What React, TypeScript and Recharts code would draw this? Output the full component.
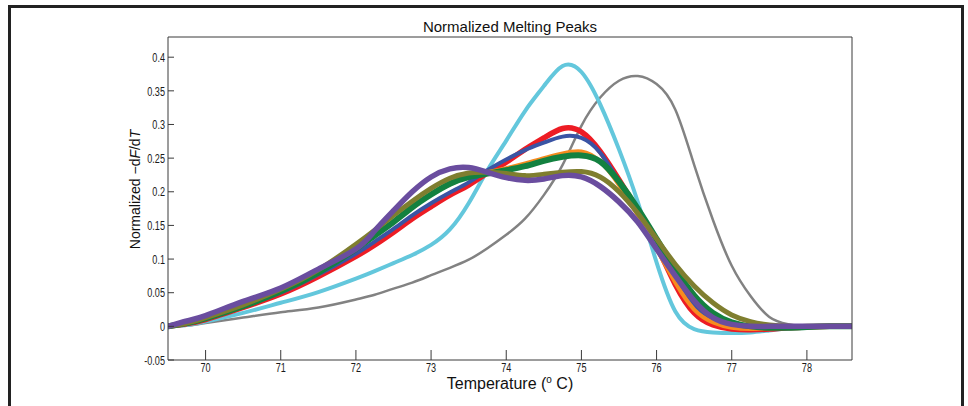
import * as React from 'react';
import { Line, LineChart, XAxis, YAxis } from 'recharts';

const temps = [
    69.5, 69.75, 70, 70.5, 71, 71.5, 72, 72.25, 72.5, 72.75, 73, 73.25, 73.5, 73.75, 74, 74.25, 74.5,
    74.75, 75, 75.25, 75.5, 75.75, 76, 76.25, 76.5, 76.75, 77, 77.25, 77.5, 77.75, 78, 78.3, 78.6,
];

const cyan = [
    0, 0.002, 0.007, 0.02, 0.035, 0.051, 0.071, 0.082, 0.094, 0.106, 0.121, 0.144, 0.183, 0.232, 0.276,
    0.32, 0.357, 0.387, 0.378, 0.33, 0.263, 0.185, 0.095, 0.022, -0.004, -0.009, -0.01, -0.009, -0.006,
    -0.003, -0.001, 0, 0,
];
const gray = [
    0, 0.001, 0.005, 0.013, 0.021, 0.028, 0.04, 0.047, 0.056, 0.065, 0.076, 0.087, 0.099, 0.116, 0.136,
    0.16, 0.195, 0.24, 0.298, 0.34, 0.365, 0.372, 0.36, 0.322, 0.24, 0.158, 0.09, 0.045, 0.014, 0.003,
    -0.001, 0, 0,
];
const red = [
    0, 0.004, 0.01, 0.028, 0.048, 0.074, 0.104, 0.121, 0.14, 0.16, 0.178, 0.195, 0.21, 0.228, 0.244,
    0.263, 0.28, 0.294, 0.289, 0.26, 0.218, 0.172, 0.12, 0.062, 0.02, 0.002, -0.004, -0.005, -0.004,
    -0.002, -0.001, 0, 0,
];
const blue = [
    0, 0.004, 0.011, 0.03, 0.05, 0.077, 0.108, 0.126, 0.145, 0.165, 0.183, 0.199, 0.214, 0.232, 0.248,
    0.262, 0.273, 0.282, 0.28, 0.258, 0.215, 0.168, 0.12, 0.07, 0.03, 0.01, 0.001, -0.002, -0.002,
    -0.001, 0, 0, 0,
];
const orange = [
    0, 0.005, 0.012, 0.031, 0.053, 0.081, 0.116, 0.135, 0.155, 0.176, 0.196, 0.211, 0.222, 0.229, 0.235,
    0.242, 0.25, 0.257, 0.26, 0.245, 0.21, 0.165, 0.115, 0.065, 0.025, 0.006, -0.002, -0.004, -0.003,
    -0.002, -0.001, 0, 0,
];
const green = [
    0, 0.005, 0.012, 0.03, 0.052, 0.08, 0.115, 0.135, 0.155, 0.177, 0.196, 0.212, 0.222, 0.227, 0.232,
    0.238, 0.246, 0.252, 0.254, 0.245, 0.215, 0.175, 0.13, 0.085, 0.046, 0.02, 0.006, 0, -0.002, -0.002,
    -0.001, 0, 0,
];
const olive = [
    0, 0.005, 0.013, 0.032, 0.055, 0.084, 0.122, 0.143, 0.165, 0.186, 0.205, 0.22, 0.228, 0.229, 0.227,
    0.224, 0.226, 0.229, 0.23, 0.222, 0.2, 0.168, 0.13, 0.092, 0.06, 0.035, 0.017, 0.007, 0.002, 0, 0,
    0, 0,
];
const purple = [
    0, 0.008, 0.016, 0.037, 0.057, 0.085, 0.115, 0.142, 0.172, 0.2, 0.222, 0.234, 0.236, 0.229, 0.221,
    0.217, 0.219, 0.224, 0.222, 0.208, 0.185, 0.155, 0.115, 0.075, 0.038, 0.013, 0.003, 0, 0, 0, 0, 0,
    0,
];

const xTicks = [70, 71, 72, 73, 74, 75, 76, 77, 78];
const yTicks = [-0.05, 0, 0.05, 0.1, 0.15, 0.2, 0.25, 0.3, 0.35, 0.4];

const series = [
    { key: 'gray', values: gray, color: '#828282', width: 2.5 },
    { key: 'cyan', values: cyan, color: '#63c7dc', width: 4 },
    { key: 'red', values: red, color: '#ed1c24', width: 5.5 },
    { key: 'blue', values: blue, color: '#3a54a4', width: 4 },
    { key: 'orange', values: orange, color: '#f68b1f', width: 4 },
    { key: 'green', values: green, color: '#138140', width: 6 },
    { key: 'olive', values: olive, color: '#7f7e2f', width: 5 },
    { key: 'purple', values: purple, color: '#6a4d9f', width: 5.5 },
];

const data = temps.map((t, i) => {
    const row: Record<string, number> = { t };
    series.forEach((s) => {
        row[s.key] = s.values[i];
    });
    return row;
});

const labelFont = "'Liberation Sans', Arial, sans-serif";
const axisColor = '#3a3a3a';

// narrow tick labels, squeezed horizontally like the original
function SqueezedTick({ x, y, payload, anchor, dy }: any) {
    return (
        <text
            x={x}
            y={y}
            dy={dy}
            textAnchor={anchor}
            transform={`translate(${x} ${y}) scale(0.7 1) translate(${-x} ${-y})`}
            fontFamily={labelFont}
            fontSize={13}
            fill="#1a1a1a"
        >
            {String(payload.value)}
        </text>
    );
}

function YLabel({ viewBox }: any) {
    const cx = viewBox.x - 27;
    const cy = viewBox.y + viewBox.height / 2 - 9;
    return (
        <text
            x={cx}
            y={cy}
            transform={`rotate(-90 ${cx} ${cy})`}
            textAnchor="middle"
            fontFamily={labelFont}
            fontSize={14}
            fill="#111"
        >
            Normalized −d<tspan fontStyle="italic">F</tspan>/d<tspan fontStyle="italic">T</tspan>
        </text>
    );
}

function XLabel({ viewBox }: any) {
    const cx = viewBox.x + viewBox.width / 2;
    return (
        <text x={cx} y={viewBox.y + 29} textAnchor="middle" fontFamily={labelFont} fontSize={16} fill="#111">
            Temperature (<tspan fontSize={10} dy={-6}>o</tspan>
            <tspan dy={6}> C)</tspan>
        </text>
    );
}

function Title({ viewBox }: any) {
    const cx = viewBox.x + viewBox.width / 2;
    return (
        <text x={cx} y={viewBox.y - 4} textAnchor="middle" fontFamily={labelFont} fontSize={15} fill="#111">
            Normalized Melting Peaks
        </text>
    );
}

export default function App() {
    return (
        <div style={{ position: 'absolute', left: 0, top: 0, width: 968, height: 406, background: '#fff' }}>
            <div
                style={{
                    position: 'absolute',
                    left: 8,
                    top: 5,
                    width: 956,
                    height: 430,
                    border: '3px solid #222',
                    boxSizing: 'border-box',
                }}
            />
            <div style={{ position: 'absolute', left: 0, top: 0 }}>
                <LineChart
                    width={968}
                    height={406}
                    data={data}
                    margin={{ top: 36, right: 115, left: 167, bottom: 45 }}
                >
                    <XAxis
                        dataKey="t"
                        type="number"
                        domain={[69.5, 78.6]}
                        ticks={xTicks}
                        allowDataOverflow
                        height={1}
                        tickSize={-10}
                        tickMargin={13}
                        interval={0}
                        stroke={axisColor}
                        tick={(p: any) => <SqueezedTick {...p} anchor="middle" dy="0.72em" />}
                        label={<XLabel />}
                    />
                    <XAxis
                        xAxisId="top"
                        orientation="top"
                        dataKey="t"
                        type="number"
                        domain={[69.5, 78.6]}
                        ticks={xTicks}
                        allowDataOverflow
                        height={1}
                        tickSize={-10}
                        tick={false}
                        interval={0}
                        stroke={axisColor}
                        label={<Title />}
                    />
                    <YAxis
                        type="number"
                        domain={[-0.05, 0.43]}
                        ticks={yTicks}
                        allowDataOverflow
                        width={1}
                        tickSize={-6}
                        tickMargin={9}
                        interval={0}
                        stroke={axisColor}
                        tick={(p: any) => <SqueezedTick {...p} anchor="end" dy="0.36em" />}
                        label={<YLabel />}
                    />
                    <YAxis
                        yAxisId="right"
                        orientation="right"
                        type="number"
                        domain={[-0.05, 0.43]}
                        ticks={yTicks}
                        allowDataOverflow
                        width={1}
                        tickSize={-6}
                        tick={false}
                        interval={0}
                        stroke={axisColor}
                    />
                    {series.map((s) => (
                        <Line
                            key={s.key}
                            dataKey={s.key}
                            type="natural"
                            stroke={s.color}
                            strokeWidth={s.width}
                            dot={false}
                            activeDot={false}
                            strokeLinecap="round"
                            isAnimationActive={false}
                        />
                    ))}
                </LineChart>
            </div>
        </div>
    );
}
